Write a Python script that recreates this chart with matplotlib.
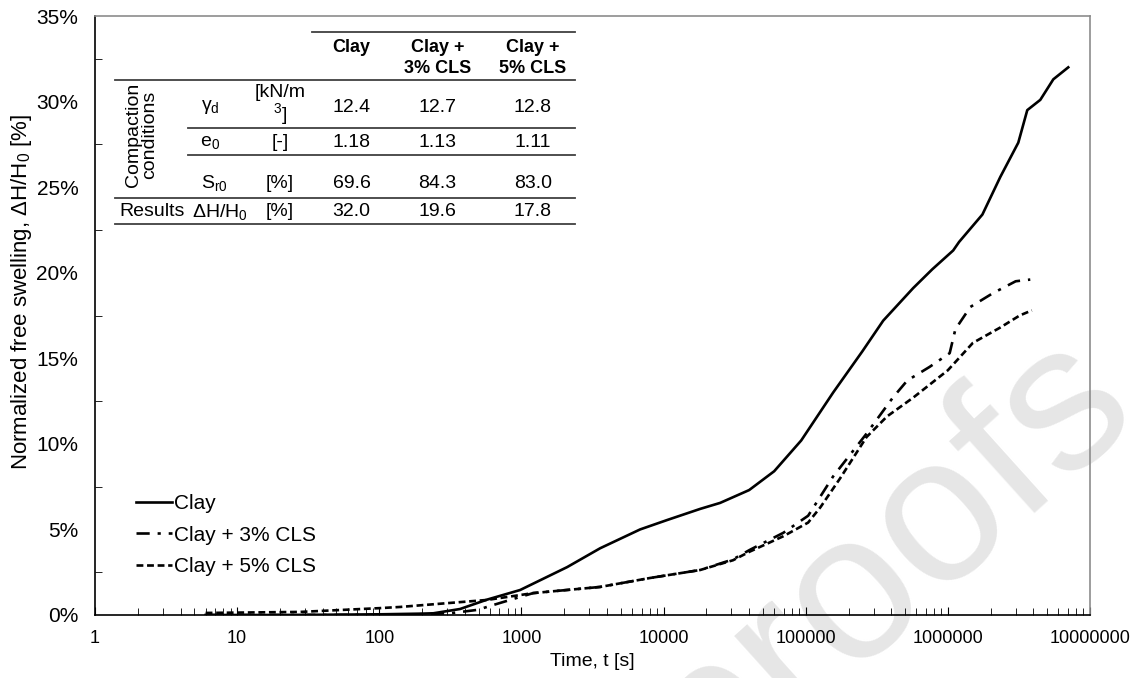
import numpy as np
import matplotlib
matplotlib.use("Agg")
from matplotlib import pyplot as plt
from matplotlib.ticker import FixedLocator, NullFormatter, FuncFormatter

plt.rcParams['font.family'] = ['Liberation Sans', 'DejaVu Sans']
plt.rcParams['mathtext.fontset'] = 'custom'
plt.rcParams['mathtext.rm'] = 'Liberation Sans'
plt.rcParams['mathtext.it'] = 'Liberation Sans:italic'

# free swelling curves, time [s] vs normalized swelling [%]
t_clay = [6, 20, 50, 100, 200, 240, 370, 574, 979, 2099, 3580, 6840, 10600, 18100,
          25000, 40000, 60000, 93000, 156000, 250000, 351000, 570000,
          777000, 1090000, 1200000, 1750000, 2340000, 3130000, 3620000,
          4470000, 5520000, 7030000]
sw_clay = [0.0, 0.0, 0.02, 0.04, 0.08, 0.1, 0.35, 0.9, 1.46, 2.8, 3.9, 5.0, 5.55, 6.2,
           6.55, 7.3, 8.4, 10.2, 13.0, 15.4, 17.2, 19.1,
           20.2, 21.3, 21.8, 23.4, 25.6, 27.6, 29.5,
           30.1, 31.3, 32.0]

t_cls3 = [6, 50, 150, 315, 490, 705, 930, 1210, 3580, 8000, 18100, 30800, 40300,
          69500, 104000, 156000, 268000, 410000, 518000, 745000, 1030000,
          1130000, 1440000, 2070000, 3000000, 3800000]
sw_cls3 = [0.0, 0.0, 0.02, 0.1, 0.3, 0.7, 1.0, 1.28, 1.64, 2.16, 2.63, 3.25, 3.8,
           4.8, 5.8, 8.1, 10.6, 12.7, 13.7, 14.5, 15.3,
           16.7, 18.0, 18.8, 19.5, 19.6]

t_cls5 = [6, 27.7, 100, 140, 574, 1210, 3580, 8000, 18100, 30800, 40300, 69500,
          104000, 127000, 175000, 268000, 373000, 570000, 1000000, 1500000,
          2340000, 3200000, 3900000]
sw_cls5 = [0.12, 0.18, 0.4, 0.47, 0.88, 1.28, 1.64, 2.16, 2.63, 3.2, 3.7, 4.6,
           5.4, 6.3, 8.0, 10.4, 11.6, 12.7, 14.3, 15.9,
           16.8, 17.5, 17.8]

series_names = ['Clay', 'Clay + 3% CLS', 'Clay + 5% CLS']

# summary table
table_cols = ['Clay', 'Clay +\n3% CLS', 'Clay +\n5% CLS']
row_symbols = ['γ$_\\mathrm{d}$', 'e$_0$', 'S$_\\mathrm{r0}$', 'ΔH/H$_0$']
row_units = ['[kN/m\n$^3$]', '[-]', '[%]', '[%]']
gamma_d = ['12.4', '12.7', '12.8']
e_0 = ['1.18', '1.13', '1.11']
s_r0 = ['69.6', '84.3', '83.0']
dh_h0 = ['32.0', '19.6', '17.8']

fig = plt.figure(figsize=(11.37, 6.78), dpi=100)
ax = fig.add_axes([95/1137, 63/678, 995/1137, 599/678])
ax.patch.set_visible(False)

# watermark behind the plot
fig.text(1.005, 0.385, 'Journal Pre-proofs', fontsize=150, color='#e6e6e6',
         rotation=42, rotation_mode='anchor', ha='right', va='baseline', zorder=-5)

ax.plot(t_clay, sw_clay, color='k', lw=1.9, ls='-', label=series_names[0])
ax.plot(t_cls3, sw_cls3, color='k', lw=1.9, ls=(0, (5, 3, 1.2, 3)), label=series_names[1])
ax.plot(t_cls5, sw_cls5, color='k', lw=1.9, ls=(0, (2.6, 1.4)), label=series_names[2])

ax.set_xscale('log')
ax.set_xlim(1, 1e7)
ax.set_ylim(0, 35)
ax.xaxis.set_major_locator(FixedLocator([10.0**k for k in range(8)]))
ax.xaxis.set_minor_locator(FixedLocator([m*10.0**k for k in range(7) for m in range(2, 10)]))
ax.xaxis.set_major_formatter(FuncFormatter(lambda v, p: '%d' % round(v)))
ax.xaxis.set_minor_formatter(NullFormatter())
ax.set_yticks(np.arange(0, 36, 5))
ax.set_yticks(np.arange(2.5, 35, 5), minor=True)
ax.yaxis.set_major_formatter(FuncFormatter(lambda v, p: '%d%%' % v))

ax.tick_params(axis='x', which='both', direction='in', labelsize=13, pad=11)
ax.tick_params(axis='x', which='major', length=6)
ax.tick_params(axis='x', which='minor', length=5)
ax.tick_params(axis='y', which='major', length=0, labelsize=15, pad=12)
ax.tick_params(axis='y', which='minor', direction='in', length=5)

for s in ['left', 'bottom']:
    ax.spines[s].set_color('k')
    ax.spines[s].set_linewidth(1.2)
for s in ['top', 'right']:
    ax.spines[s].set_color('#8c8c8c')
    ax.spines[s].set_linewidth(1.2)

ax.set_xlabel('Time, t [s]', fontsize=14, labelpad=4)
ax.set_ylabel('Normalized free swelling, ΔH/H$_0$ [%]', fontsize=16)
ax.yaxis.set_label_coords(-0.061, 0.54)

leg = ax.legend(loc='lower left', bbox_to_anchor=(0.033, 0.051), frameon=False,
                fontsize=15, handlelength=1.7, handletextpad=0.1, labelspacing=0.6,
                borderaxespad=0.0)

# table drawn in axes fraction coordinates
tc = '#404040'
def hline(x0, x1, y):
    ax.plot([x0, x1], [y, y], transform=ax.transAxes, color=tc, lw=1.3, clip_on=False)

hline(0.218, 0.482, 0.973)
hline(0.020, 0.482, 0.893)
hline(0.0935, 0.482, 0.813)
hline(0.0935, 0.482, 0.768)
hline(0.020, 0.482, 0.696)
hline(0.020, 0.482, 0.653)

col_x = [0.258, 0.344, 0.440]
row_y = [0.848, 0.788, 0.721, 0.673]
tkw = dict(transform=ax.transAxes, ha='center', va='center', fontsize=14)

ax.text(col_x[0], 0.948, table_cols[0], fontweight='bold', fontsize=13,
        transform=ax.transAxes, ha='center', va='center')
for x, head in zip(col_x[1:], table_cols[1:]):
    ax.text(x, 0.930, head, fontweight='bold', fontsize=13, linespacing=1.25,
            transform=ax.transAxes, ha='center', va='center')

for y, vals in zip(row_y, [gamma_d, e_0, s_r0, dh_h0]):
    for x, v in zip(col_x, vals):
        ax.text(x, y, v, **tkw)

sym_x = [0.1156, 0.1156, 0.1195, 0.1256]
for x, y, sym, unit in zip(sym_x, row_y, row_symbols, row_units):
    ax.text(x, y, sym, **tkw)
    ax.text(0.186, y + (0.002 if '\n' in unit else 0), unit, linespacing=1.0, **tkw)

ax.text(0.047, 0.801, 'Compaction\nconditions', rotation=90, linespacing=0.95, **tkw)
ax.text(0.057, 0.673, 'Results', **tkw)

fig.savefig('out.png', dpi=100)
